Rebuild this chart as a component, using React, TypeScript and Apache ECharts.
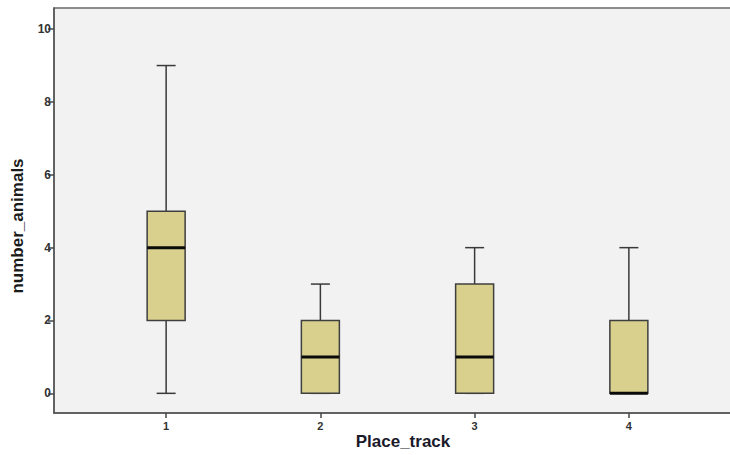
import React, { useEffect, useRef } from "react";
import * as echarts from "echarts";

const categories = ["1", "2", "3", "4"];
const categoryPositions = [1, 2, 3, 4];
const mins = [0, 0, 0, 0];
const q1s = [2, 0, 0, 0];
const medians = [4, 1, 1, 0];
const q3s = [5, 2, 3, 2];
const maxs = [9, 3, 4, 4];
const yTicks = [0, 2, 4, 6, 8, 10];

export default function App() {
  const ref = useRef<HTMLDivElement>(null);
  useEffect(() => {
    if (!ref.current) return;
    const chart = echarts.init(ref.current, null, { renderer: "svg" });
    const data = categories.map((_, i) => [
      categoryPositions[i], mins[i], q1s[i], medians[i], q3s[i], maxs[i],
    ]);
    const boxW = 38;
    const capW = 19;
    chart.setOption({
      animation: false,
      backgroundColor: "#ffffff",
      grid: {
        left: 54,
        top: 8,
        right: 2,
        bottom: 42,
        outerBoundsMode: "none",
        show: true,
        backgroundColor: "#f2f2f2",
        borderColor: "#6a6a6a",
        borderWidth: 1.5,
      },
      xAxis: {
        type: "value",
        min: 0.273,
        max: 4.727,
        splitLine: { show: false },
        axisLine: { show: true, onZero: false, lineStyle: { color: "#555", width: 1.5 } },
        axisTick: {
          show: true,
          length: 5,
          customValues: categoryPositions,
          lineStyle: { color: "#444", width: 1.5 },
        },
        axisLabel: {
          customValues: categoryPositions,
          formatter: (v: number) => categories[Math.round(v) - 1] ?? "",
          color: "#333",
          fontSize: 11,
          fontWeight: "bold",
          fontFamily: "Liberation Sans",
          margin: 7,
        },
      },
      yAxis: {
        type: "value",
        min: -0.54,
        max: 10.58,
        splitLine: { show: false },
        axisLine: { show: true, onZero: false, lineStyle: { color: "#555", width: 1.5 } },
        axisTick: {
          show: true,
          length: 6,
          customValues: yTicks,
          lineStyle: { color: "#444", width: 1.5 },
        },
        axisLabel: {
          customValues: yTicks,
          color: "#333",
          fontSize: 12,
          fontWeight: "bold",
          fontFamily: "Liberation Sans",
          margin: 3,
        },
      },
      graphic: [
        {
          type: "text",
          x: 17,
          y: 226,
          rotation: Math.PI / 2,
          style: {
            text: "number_animals",
            font: "bold 17px 'Liberation Sans'",
            fill: "#1a1a1a",
            align: "center",
            verticalAlign: "middle",
          },
        },
        {
          type: "text",
          x: 403,
          y: 441,
          style: {
            text: "Place_track",
            font: "bold 17px 'Liberation Sans'",
            fill: "#1a1a2a",
            align: "center",
            verticalAlign: "middle",
          },
        },
      ],
      series: [
        {
          type: "custom",
          data,
          encode: { x: 0, y: [1, 2, 3, 4, 5] },
          renderItem: (params: any, api: any) => {
            const x = api.value(0);
            const pMin = api.coord([x, api.value(1)]);
            const pQ1 = api.coord([x, api.value(2)]);
            const pMed = api.coord([x, api.value(3)]);
            const pQ3 = api.coord([x, api.value(4)]);
            const pMax = api.coord([x, api.value(5)]);
            const cx = pMed[0];
            const lineStyle = { stroke: "#3a3a3a", lineWidth: 1.5 };
            return {
              type: "group",
              children: [
                { type: "line", shape: { x1: cx, y1: pQ3[1], x2: cx, y2: pMax[1] }, style: lineStyle },
                { type: "line", shape: { x1: cx, y1: pQ1[1], x2: cx, y2: pMin[1] }, style: lineStyle },
                { type: "line", shape: { x1: cx - capW / 2, y1: pMax[1], x2: cx + capW / 2, y2: pMax[1] }, style: lineStyle },
                { type: "line", shape: { x1: cx - capW / 2, y1: pMin[1], x2: cx + capW / 2, y2: pMin[1] }, style: lineStyle },
                {
                  type: "rect",
                  shape: { x: cx - boxW / 2, y: pQ3[1], width: boxW, height: pQ1[1] - pQ3[1] },
                  style: { fill: "#d9d08e", stroke: "#3f3f3f", lineWidth: 1.5 },
                },
                {
                  type: "line",
                  shape: { x1: cx - boxW / 2, y1: pMed[1], x2: cx + boxW / 2, y2: pMed[1] },
                  style: { stroke: "#0a0a0a", lineWidth: 3 },
                },
              ],
            };
          },
        },
      ],
    });
    return () => chart.dispose();
  }, []);
  return (
    <div style={{ width: 730, height: 455, position: "absolute", left: 0, top: 0, overflow: "hidden" }}>
      <div ref={ref} style={{ width: 743, height: 455 }} />
    </div>
  );
}
